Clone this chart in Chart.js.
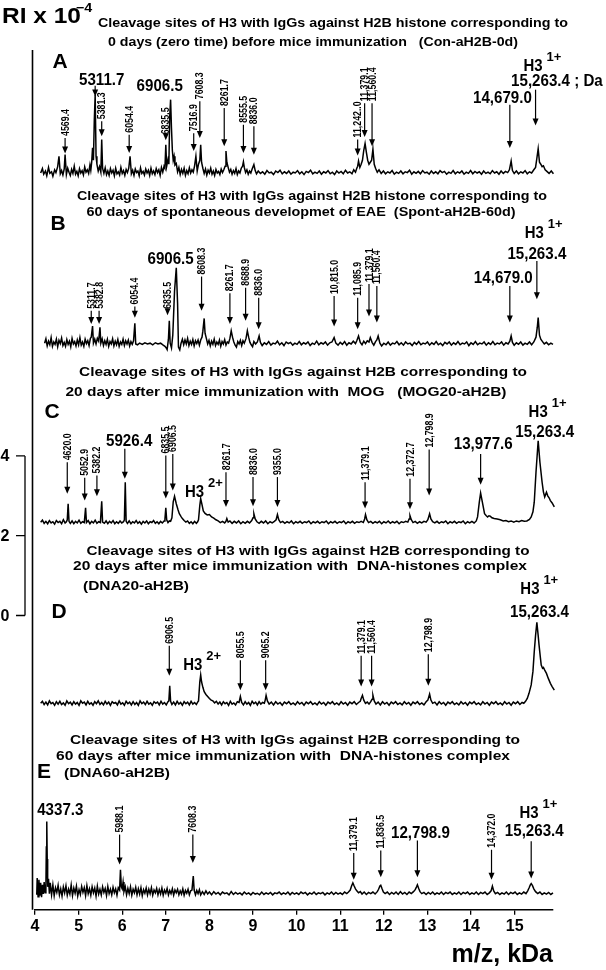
<!DOCTYPE html>
<html>
<head>
<meta charset="utf-8">
<title>Cleavage sites of H3</title>
<script src="https://cdn.jsdelivr.net/npm/chart.js@4.4.0/dist/chart.umd.min.js"></script>
<style>
  body { margin: 0; background: #fff; }
  #wrap { width: 606px; height: 970px; position: relative; }
</style>
</head>
<body>
<div id="wrap"><canvas id="spectra"></canvas></div>
<script>
// Spectra: [m/z (kDa), RI x 10^-4]
const specA = [[4.13,2.28],[4.17,2.39],[4.2,2.25],[4.24,2.33],[4.27,2.21],[4.31,2.42],[4.34,2.27],[4.38,2.31],[4.41,2.2],[4.45,2.36],[4.48,2.29],[4.52,2.44],[4.55,2.70],[4.58,2.26],[4.61,2.34],[4.64,2.23],[4.67,2.38],[4.69,2.74],[4.72,2.24],[4.75,2.4],[4.78,2.3],[4.81,2.22],[4.84,2.37],[4.87,2.27],[4.9,2.45],[4.93,2.25],[4.96,2.32],[4.99,2.21],[5.02,2.39],[5.05,2.28],[5.08,2.34],[5.11,2.23],[5.14,2.43],[5.17,2.3],[5.2,2.36],[5.23,2.27],[5.26,2.48],[5.28,2.35],[5.30,2.55],[5.32,2.91],[5.34,2.6],[5.36,3.6],[5.38,4.24],[5.40,2.7],[5.42,2.5],[5.45,2.33],[5.48,2.44],[5.51,2.3],[5.53,3.12],[5.55,2.4],[5.58,2.27],[5.61,2.41],[5.64,2.24],[5.67,2.33],[5.7,2.22],[5.73,2.39],[5.76,2.28],[5.79,2.35],[5.82,2.21],[5.85,2.4],[5.88,2.26],[5.91,2.31],[5.94,2.23],[5.97,2.42],[6.0,2.27],[6.03,2.34],[6.06,2.22],[6.09,2.37],[6.12,2.29],[6.15,2.4],[6.18,2.70],[6.21,2.26],[6.24,2.35],[6.27,2.22],[6.3,2.38],[6.33,2.29],[6.36,2.33],[6.39,2.21],[6.42,2.41],[6.45,2.27],[6.48,2.32],[6.51,2.23],[6.54,2.38],[6.57,2.28],[6.6,2.35],[6.63,2.22],[6.66,2.4],[6.69,2.26],[6.72,2.33],[6.75,2.24],[6.78,2.39],[6.81,2.29],[6.84,2.36],[6.87,2.22],[6.9,2.42],[6.93,2.3],[6.96,2.45],[6.98,2.4],[7.00,2.99],[7.02,2.45],[7.05,2.62],[7.07,2.5],[7.09,3.7],[7.11,4.12],[7.13,3.4],[7.15,2.85],[7.17,2.6],[7.19,2.7],[7.21,2.48],[7.24,2.52],[7.27,2.31],[7.3,2.42],[7.33,2.24],[7.36,2.37],[7.39,2.27],[7.42,2.4],[7.45,2.22],[7.48,2.34],[7.51,2.26],[7.54,2.41],[7.57,2.28],[7.6,2.36],[7.63,2.3],[7.66,2.46],[7.69,2.70],[7.72,2.33],[7.75,2.5],[7.78,2.6],[7.80,2.99],[7.82,2.55],[7.85,2.4],[7.88,2.27],[7.91,2.38],[7.94,2.23],[7.97,2.35],[8.0,2.28],[8.03,2.4],[8.06,2.25],[8.09,2.33],[8.12,2.22],[8.15,2.37],[8.18,2.28],[8.21,2.32],[8.24,2.24],[8.27,2.38],[8.3,2.29],[8.33,2.36],[8.36,2.45],[8.38,2.83],[8.4,2.55],[8.43,2.42],[8.46,2.3],[8.49,2.37],[8.52,2.25],[8.55,2.34],[8.58,2.27],[8.61,2.39],[8.64,2.24],[8.67,2.33],[8.7,2.28],[8.73,2.4],[8.76,2.45],[8.78,2.56],[8.8,2.42],[8.83,2.29],[8.86,2.36],[8.89,2.25],[8.92,2.33],[8.95,2.28],[8.98,2.38],[9.02,2.49],[9.05,2.34],[9.08,2.26],[9.12,2.33],[9.17,2.27],[9.22,2.31],[9.27,2.25],[9.32,2.34],[9.37,2.28],[9.42,2.3],[9.47,2.24],[9.52,2.33],[9.57,2.29],[9.62,2.35],[9.67,2.26],[9.72,2.31],[9.77,2.27],[9.82,2.33],[9.87,2.25],[9.92,2.3],[9.97,2.28],[10.02,2.34],[10.07,2.26],[10.12,2.31],[10.17,2.24],[10.22,2.32],[10.27,2.29],[10.32,2.35],[10.37,2.26],[10.42,2.3],[10.47,2.27],[10.52,2.33],[10.57,2.25],[10.62,2.31],[10.67,2.28],[10.72,2.34],[10.77,2.26],[10.82,2.3],[10.87,2.24],[10.92,2.33],[10.97,2.28],[11.02,2.32],[11.07,2.26],[11.12,2.35],[11.17,2.28],[11.22,2.31],[11.27,2.26],[11.31,2.36],[11.35,2.3],[11.38,2.4],[11.40,2.45],[11.42,2.58],[11.45,2.42],[11.48,2.5],[11.51,2.6],[11.54,2.85],[11.57,3.02],[11.6,2.8],[11.63,2.6],[11.66,2.5],[11.69,2.55],[11.72,2.6],[11.75,2.88],[11.78,2.5],[11.81,2.4],[11.85,2.3],[11.89,2.36],[11.94,2.27],[11.99,2.33],[12.04,2.26],[12.09,2.31],[12.14,2.28],[12.19,2.34],[12.24,2.25],[12.29,2.3],[12.34,2.27],[12.39,2.33],[12.44,2.26],[12.49,2.31],[12.54,2.29],[12.59,2.35],[12.64,2.25],[12.69,2.31],[12.74,2.27],[12.79,2.32],[12.84,2.26],[12.89,2.34],[12.94,2.28],[12.99,2.3],[13.04,2.25],[13.09,2.33],[13.14,2.27],[13.19,2.31],[13.24,2.26],[13.29,2.34],[13.34,2.29],[13.39,2.32],[13.44,2.25],[13.49,2.3],[13.54,2.27],[13.59,2.34],[13.64,2.26],[13.69,2.31],[13.74,2.28],[13.79,2.33],[13.84,2.25],[13.89,2.3],[13.94,2.27],[13.99,2.34],[14.04,2.26],[14.09,2.32],[14.14,2.28],[14.19,2.31],[14.24,2.25],[14.29,2.33],[14.34,2.27],[14.39,2.3],[14.44,2.26],[14.49,2.34],[14.54,2.28],[14.59,2.31],[14.64,2.25],[14.69,2.33],[14.74,2.27],[14.79,2.32],[14.84,2.29],[14.88,2.36],[14.92,2.58],[14.95,2.34],[14.99,2.27],[15.04,2.33],[15.09,2.26],[15.14,2.31],[15.19,2.28],[15.24,2.34],[15.29,2.26],[15.34,2.31],[15.39,2.28],[15.44,2.36],[15.48,2.42],[15.51,2.65],[15.54,2.89],[15.57,2.55],[15.6,2.5],[15.63,2.44],[15.66,2.46],[15.7,2.36],[15.74,2.32],[15.79,2.27],[15.84,2.33],[15.89,2.26],[15.94,2.31],[15.99,2.27],[16.04,2.32],[16.09,2.26],[16.14,2.3],[16.19,2.27],[16.25,2.29]];

const specB = [[4.22,2.3],[4.25,2.41],[4.28,2.23],[4.31,2.35],[4.34,2.26],[4.37,2.44],[4.4,2.22],[4.43,2.33],[4.46,2.27],[4.49,2.4],[4.52,2.21],[4.55,2.37],[4.58,2.29],[4.61,2.43],[4.64,2.24],[4.67,2.32],[4.7,2.22],[4.73,2.39],[4.76,2.27],[4.79,2.35],[4.82,2.21],[4.85,2.42],[4.88,2.28],[4.91,2.34],[4.94,2.23],[4.97,2.38],[5.0,2.26],[5.03,2.44],[5.06,2.25],[5.09,2.33],[5.12,2.22],[5.15,2.4],[5.18,2.29],[5.21,2.36],[5.24,2.24],[5.27,2.42],[5.29,2.45],[5.32,2.73],[5.34,2.3],[5.37,2.4],[5.4,2.28],[5.43,2.42],[5.46,2.35],[5.49,2.70],[5.51,2.3],[5.54,2.41],[5.57,2.24],[5.6,2.36],[5.63,2.27],[5.66,2.4],[5.69,2.22],[5.72,2.34],[5.75,2.28],[5.78,2.41],[5.81,2.23],[5.84,2.35],[5.87,2.26],[5.9,2.39],[5.93,2.22],[5.96,2.33],[5.99,2.27],[6.02,2.4],[6.05,2.24],[6.08,2.36],[6.11,2.28],[6.14,2.38],[6.17,2.23],[6.2,2.34],[6.23,2.27],[6.26,2.36],[6.29,2.80],[6.31,2.28],[6.35,2.26],[6.4,2.3],[6.46,2.27],[6.52,2.31],[6.58,2.28],[6.64,2.3],[6.7,2.26],[6.76,2.31],[6.82,2.28],[6.88,2.3],[6.94,2.25],[6.98,2.22],[7.01,2.18],[7.03,2.14],[7.06,2.4],[7.08,2.86],[7.1,2.3],[7.13,2.18],[7.16,2.5],[7.2,3.6],[7.24,4.19],[7.27,3.3],[7.29,2.2],[7.32,2.13],[7.35,2.3],[7.38,2.4],[7.41,2.26],[7.44,2.38],[7.47,2.28],[7.5,2.42],[7.53,2.24],[7.56,2.35],[7.59,2.27],[7.62,2.39],[7.65,2.23],[7.68,2.36],[7.71,2.29],[7.74,2.38],[7.77,2.25],[7.8,2.38],[7.83,2.45],[7.85,2.6],[7.88,2.92],[7.9,2.55],[7.93,2.42],[7.96,2.28],[7.99,2.37],[8.02,2.23],[8.05,2.35],[8.08,2.27],[8.11,2.4],[8.14,2.24],[8.17,2.33],[8.2,2.27],[8.23,2.38],[8.26,2.22],[8.29,2.34],[8.32,2.28],[8.35,2.39],[8.38,2.25],[8.41,2.33],[8.44,2.3],[8.47,2.42],[8.5,2.61],[8.53,2.45],[8.56,2.33],[8.59,2.25],[8.62,2.2],[8.65,2.34],[8.68,2.28],[8.71,2.37],[8.74,2.24],[8.77,2.36],[8.8,2.3],[8.84,2.42],[8.87,2.61],[8.9,2.45],[8.93,2.32],[8.96,2.26],[8.99,2.21],[9.02,2.34],[9.06,2.28],[9.1,2.33],[9.14,2.48],[9.17,2.32],[9.21,2.24],[9.26,2.31],[9.31,2.27],[9.36,2.34],[9.41,2.25],[9.46,2.3],[9.51,2.28],[9.56,2.35],[9.61,2.26],[9.66,2.31],[9.71,2.24],[9.76,2.33],[9.81,2.29],[9.86,2.32],[9.91,2.25],[9.96,2.3],[10.01,2.27],[10.06,2.34],[10.11,2.26],[10.16,2.31],[10.21,2.28],[10.26,2.33],[10.31,2.24],[10.36,2.3],[10.41,2.27],[10.46,2.35],[10.51,2.26],[10.56,2.31],[10.61,2.28],[10.66,2.33],[10.71,2.25],[10.76,2.31],[10.81,2.33],[10.86,2.44],[10.9,2.3],[10.95,2.25],[11.0,2.32],[11.05,2.27],[11.1,2.34],[11.15,2.25],[11.2,2.31],[11.25,2.28],[11.3,2.35],[11.35,2.29],[11.38,2.36],[11.42,2.48],[11.46,2.32],[11.5,2.26],[11.54,2.35],[11.58,2.29],[11.62,2.36],[11.66,2.33],[11.69,2.44],[11.73,2.32],[11.77,2.25],[11.81,2.34],[11.84,2.38],[11.87,2.48],[11.91,2.3],[11.95,2.23],[12.0,2.3],[12.05,2.26],[12.1,2.33],[12.15,2.25],[12.2,2.3],[12.25,2.28],[12.3,2.34],[12.35,2.26],[12.4,2.31],[12.45,2.25],[12.5,2.33],[12.55,2.28],[12.6,2.3],[12.65,2.24],[12.7,2.32],[12.75,2.27],[12.8,2.34],[12.85,2.26],[12.9,2.3],[12.95,2.28],[13.0,2.33],[13.05,2.25],[13.1,2.31],[13.15,2.27],[13.2,2.34],[13.25,2.26],[13.3,2.3],[13.35,2.24],[13.4,2.32],[13.45,2.28],[13.5,2.33],[13.55,2.25],[13.6,2.31],[13.65,2.27],[13.7,2.34],[13.75,2.26],[13.8,2.3],[13.85,2.28],[13.9,2.33],[13.95,2.24],[14.0,2.31],[14.05,2.27],[14.1,2.34],[14.15,2.26],[14.2,2.3],[14.25,2.28],[14.3,2.33],[14.35,2.25],[14.4,2.31],[14.45,2.27],[14.5,2.34],[14.55,2.26],[14.6,2.3],[14.65,2.28],[14.7,2.33],[14.75,2.25],[14.8,2.31],[14.85,2.28],[14.89,2.35],[14.92,2.48],[14.95,2.32],[14.99,2.25],[15.04,2.31],[15.09,2.27],[15.14,2.33],[15.19,2.25],[15.24,2.3],[15.29,2.27],[15.34,2.33],[15.39,2.26],[15.44,2.33],[15.49,2.45],[15.52,2.7],[15.54,2.94],[15.57,2.5],[15.6,2.4],[15.64,2.34],[15.68,2.28],[15.73,2.32],[15.78,2.26],[15.83,2.3],[15.88,2.27],[15.93,2.31],[15.98,2.25],[16.03,2.3],[16.08,2.27],[16.13,2.31],[16.18,2.26],[16.23,2.3],[16.29,2.27],[16.36,2.28]];

const specC = [[4.13,2.34],[4.17,2.39],[4.21,2.31],[4.25,2.36],[4.29,2.3],[4.33,2.38],[4.37,2.32],[4.41,2.35],[4.45,2.29],[4.49,2.38],[4.53,2.33],[4.57,2.36],[4.61,2.3],[4.65,2.4],[4.69,2.32],[4.72,2.35],[4.74,2.4],[4.76,2.80],[4.78,2.36],[4.81,2.31],[4.85,2.37],[4.89,2.3],[4.93,2.36],[4.97,2.32],[5.01,2.39],[5.05,2.31],[5.09,2.35],[5.13,2.33],[5.16,2.70],[5.18,2.33],[5.22,2.38],[5.26,2.3],[5.3,2.36],[5.34,2.32],[5.38,2.39],[5.42,2.31],[5.46,2.35],[5.5,2.33],[5.53,2.86],[5.55,2.34],[5.59,2.31],[5.63,2.37],[5.67,2.3],[5.71,2.36],[5.75,2.32],[5.79,2.38],[5.83,2.3],[5.87,2.35],[5.91,2.31],[5.95,2.37],[5.99,2.32],[6.03,2.35],[6.05,2.4],[6.07,3.34],[6.09,2.36],[6.12,2.31],[6.16,2.37],[6.2,2.3],[6.24,2.35],[6.28,2.32],[6.32,2.38],[6.36,2.31],[6.4,2.35],[6.44,2.29],[6.48,2.36],[6.52,2.32],[6.56,2.37],[6.6,2.3],[6.64,2.35],[6.68,2.33],[6.72,2.38],[6.76,2.31],[6.8,2.35],[6.84,2.3],[6.88,2.36],[6.92,2.32],[6.96,2.37],[6.98,2.42],[7.0,2.70],[7.02,2.4],[7.05,2.33],[7.08,2.37],[7.11,2.36],[7.14,2.45],[7.17,2.85],[7.2,2.99],[7.24,2.8],[7.28,2.65],[7.31,2.55],[7.35,2.48],[7.38,2.43],[7.42,2.38],[7.46,2.34],[7.5,2.37],[7.54,2.31],[7.58,2.35],[7.62,2.3],[7.66,2.36],[7.7,2.31],[7.73,2.35],[7.75,2.4],[7.78,2.76],[7.8,2.93],[7.83,2.78],[7.86,2.62],[7.9,2.56],[7.95,2.52],[8.0,2.53],[8.05,2.47],[8.1,2.44],[8.15,2.4],[8.2,2.37],[8.25,2.33],[8.3,2.36],[8.35,2.32],[8.38,2.36],[8.4,2.43],[8.43,2.34],[8.47,2.37],[8.52,2.31],[8.57,2.36],[8.62,2.32],[8.67,2.37],[8.72,2.3],[8.77,2.35],[8.82,2.31],[8.87,2.36],[8.92,2.32],[8.97,2.38],[9.0,2.45],[9.02,2.55],[9.05,2.42],[9.09,2.35],[9.14,2.31],[9.19,2.36],[9.24,2.32],[9.29,2.37],[9.34,2.3],[9.39,2.35],[9.44,2.32],[9.49,2.36],[9.53,2.4],[9.56,2.53],[9.59,2.4],[9.63,2.33],[9.68,2.36],[9.73,2.31],[9.78,2.35],[9.83,2.32],[9.88,2.37],[9.93,2.3],[9.98,2.35],[10.03,2.32],[10.08,2.36],[10.13,2.31],[10.18,2.35],[10.23,2.33],[10.28,2.37],[10.33,2.3],[10.38,2.35],[10.43,2.32],[10.48,2.36],[10.53,2.31],[10.58,2.35],[10.63,2.33],[10.68,2.37],[10.73,2.3],[10.78,2.35],[10.83,2.32],[10.88,2.36],[10.93,2.31],[10.98,2.35],[11.03,2.33],[11.08,2.37],[11.13,2.3],[11.18,2.35],[11.23,2.32],[11.28,2.36],[11.33,2.31],[11.38,2.35],[11.43,2.33],[11.48,2.36],[11.53,2.33],[11.56,2.42],[11.58,2.53],[11.61,2.4],[11.65,2.33],[11.7,2.36],[11.75,2.31],[11.8,2.35],[11.85,2.32],[11.9,2.36],[11.95,2.3],[12.0,2.35],[12.05,2.32],[12.1,2.37],[12.15,2.31],[12.2,2.35],[12.25,2.32],[12.3,2.36],[12.35,2.3],[12.4,2.35],[12.45,2.33],[12.5,2.36],[12.55,2.34],[12.58,2.42],[12.6,2.50],[12.63,2.4],[12.67,2.33],[12.72,2.36],[12.77,2.31],[12.82,2.35],[12.87,2.32],[12.92,2.36],[12.97,2.34],[13.01,2.4],[13.05,2.55],[13.08,2.42],[13.12,2.35],[13.17,2.32],[13.22,2.36],[13.27,2.31],[13.32,2.35],[13.37,2.33],[13.42,2.37],[13.47,2.3],[13.52,2.35],[13.57,2.32],[13.62,2.36],[13.67,2.31],[13.72,2.35],[13.77,2.33],[13.82,2.37],[13.87,2.3],[13.92,2.35],[13.97,2.32],[14.02,2.36],[14.07,2.32],[14.12,2.37],[14.15,2.47],[14.19,2.84],[14.22,3.07],[14.26,2.84],[14.31,2.55],[14.35,2.5],[14.38,2.47],[14.41,2.5],[14.44,2.49],[14.48,2.45],[14.53,2.43],[14.6,2.42],[14.67,2.40],[14.74,2.37],[14.8,2.38],[14.86,2.35],[14.92,2.37],[14.98,2.34],[15.04,2.37],[15.1,2.35],[15.16,2.38],[15.22,2.36],[15.28,2.37],[15.34,2.41],[15.38,2.47],[15.42,2.6],[15.45,2.84],[15.49,3.59],[15.54,4.38],[15.58,3.84],[15.63,3.34],[15.66,3.1],[15.69,2.97],[15.73,3.09],[15.76,3.0],[15.79,2.95],[15.82,2.88],[15.86,2.82],[15.91,2.72],[15.95,2.66],[16.0,2.59],[16.04,2.56],[16.09,2.51],[16.13,2.47],[16.18,2.41],[16.21,2.36],[16.25,2.32]];

const specD = [[4.13,2.3],[4.17,2.35],[4.21,2.27],[4.25,2.33],[4.29,2.26],[4.33,2.36],[4.37,2.29],[4.41,2.32],[4.45,2.25],[4.49,2.34],[4.53,2.28],[4.57,2.35],[4.61,2.27],[4.65,2.31],[4.69,2.25],[4.73,2.36],[4.77,2.29],[4.81,2.33],[4.85,2.26],[4.89,2.34],[4.93,2.28],[4.97,2.32],[5.01,2.25],[5.05,2.36],[5.09,2.3],[5.13,2.33],[5.17,2.26],[5.21,2.35],[5.25,2.28],[5.29,2.31],[5.33,2.25],[5.37,2.34],[5.41,2.29],[5.45,2.36],[5.49,2.27],[5.53,2.32],[5.57,2.26],[5.61,2.35],[5.65,2.28],[5.69,2.33],[5.73,2.25],[5.77,2.34],[5.81,2.3],[5.85,2.32],[5.89,2.26],[5.93,2.36],[5.97,2.28],[6.01,2.31],[6.05,2.25],[6.09,2.35],[6.13,2.29],[6.17,2.33],[6.21,2.26],[6.25,2.34],[6.29,2.27],[6.33,2.32],[6.37,2.25],[6.41,2.36],[6.45,2.29],[6.49,2.33],[6.53,2.27],[6.57,2.35],[6.61,2.28],[6.65,2.31],[6.69,2.25],[6.73,2.34],[6.77,2.3],[6.81,2.33],[6.85,2.26],[6.89,2.35],[6.93,2.28],[6.97,2.32],[7.01,2.26],[7.05,2.34],[7.07,2.36],[7.09,2.74],[7.11,2.35],[7.14,2.27],[7.18,2.33],[7.22,2.26],[7.26,2.35],[7.3,2.28],[7.34,2.32],[7.38,2.25],[7.42,2.34],[7.46,2.29],[7.5,2.33],[7.54,2.26],[7.58,2.35],[7.62,2.28],[7.66,2.32],[7.7,2.27],[7.73,2.33],[7.75,2.36],[7.78,2.84],[7.8,3.01],[7.82,2.84],[7.85,2.7],[7.88,2.59],[7.92,2.52],[7.96,2.47],[8.0,2.42],[8.04,2.38],[8.08,2.36],[8.12,2.31],[8.16,2.35],[8.2,2.28],[8.24,2.33],[8.28,2.26],[8.32,2.34],[8.36,2.29],[8.4,2.32],[8.44,2.25],[8.48,2.35],[8.52,2.28],[8.56,2.31],[8.6,2.26],[8.64,2.34],[8.68,2.32],[8.71,2.47],[8.74,2.32],[8.78,2.26],[8.82,2.34],[8.86,2.28],[8.9,2.32],[8.94,2.25],[8.98,2.35],[9.02,2.29],[9.06,2.33],[9.1,2.26],[9.14,2.34],[9.18,2.28],[9.22,2.32],[9.26,2.3],[9.28,2.38],[9.3,2.50],[9.33,2.36],[9.37,2.28],[9.42,2.33],[9.47,2.26],[9.52,2.34],[9.57,2.28],[9.62,2.32],[9.67,2.25],[9.72,2.33],[9.77,2.29],[9.82,2.34],[9.87,2.27],[9.92,2.31],[9.97,2.26],[10.02,2.34],[10.07,2.28],[10.12,2.32],[10.17,2.25],[10.22,2.33],[10.27,2.29],[10.32,2.34],[10.37,2.27],[10.42,2.31],[10.47,2.26],[10.52,2.34],[10.57,2.28],[10.62,2.32],[10.67,2.25],[10.72,2.33],[10.77,2.29],[10.82,2.34],[10.87,2.27],[10.92,2.31],[10.97,2.26],[11.02,2.34],[11.07,2.28],[11.12,2.32],[11.17,2.25],[11.22,2.33],[11.27,2.29],[11.32,2.34],[11.37,2.27],[11.42,2.32],[11.46,2.35],[11.48,2.42],[11.51,2.50],[11.54,2.38],[11.58,2.3],[11.62,2.33],[11.66,2.28],[11.7,2.34],[11.73,2.4],[11.75,2.50],[11.78,2.36],[11.82,2.28],[11.87,2.33],[11.92,2.26],[11.97,2.34],[12.02,2.28],[12.07,2.32],[12.12,2.25],[12.17,2.33],[12.22,2.29],[12.27,2.34],[12.32,2.27],[12.37,2.31],[12.42,2.26],[12.47,2.34],[12.52,2.28],[12.57,2.32],[12.62,2.25],[12.67,2.33],[12.72,2.29],[12.77,2.34],[12.82,2.27],[12.87,2.31],[12.92,2.26],[12.97,2.34],[13.01,2.38],[13.05,2.53],[13.08,2.38],[13.12,2.3],[13.17,2.33],[13.22,2.26],[13.27,2.34],[13.32,2.28],[13.37,2.32],[13.42,2.25],[13.47,2.33],[13.52,2.29],[13.57,2.34],[13.62,2.27],[13.67,2.31],[13.72,2.26],[13.77,2.34],[13.82,2.28],[13.87,2.32],[13.92,2.25],[13.97,2.33],[14.02,2.29],[14.07,2.34],[14.12,2.27],[14.17,2.31],[14.22,2.26],[14.27,2.34],[14.32,2.28],[14.37,2.32],[14.42,2.25],[14.47,2.33],[14.52,2.29],[14.57,2.34],[14.62,2.27],[14.67,2.31],[14.72,2.26],[14.77,2.34],[14.82,2.28],[14.87,2.32],[14.92,2.25],[14.97,2.33],[15.02,2.29],[15.07,2.34],[15.12,2.27],[15.17,2.32],[15.21,2.3],[15.25,2.35],[15.29,2.42],[15.33,2.55],[15.38,2.76],[15.42,3.1],[15.45,3.59],[15.48,4.0],[15.51,4.33],[15.54,4.0],[15.56,3.76],[15.59,3.45],[15.61,3.26],[15.64,3.18],[15.66,3.2],[15.69,3.13],[15.73,3.05],[15.77,2.93],[15.82,2.80],[15.86,2.72],[15.91,2.63],[15.97,2.55],[16.04,2.47],[16.1,2.42],[16.16,2.38],[16.21,2.33],[16.25,2.30]];

const specE = [[4.04,2.3],[4.05,2.72],[4.07,2.25],[4.09,2.68],[4.11,2.28],[4.13,2.6],[4.15,2.24],[4.17,2.55],[4.19,2.32],[4.21,2.62],[4.23,2.35],[4.25,2.5],[4.26,3.5],[4.27,4.14],[4.28,3.2],[4.29,2.5],[4.31,2.7],[4.33,2.33],[4.35,2.6],[4.38,2.3],[4.41,2.55],[4.44,2.28],[4.47,2.48],[4.5,2.36],[4.53,2.54],[4.56,2.3],[4.59,2.45],[4.62,2.27],[4.65,2.5],[4.68,2.35],[4.71,2.53],[4.74,2.29],[4.77,2.44],[4.8,2.32],[4.83,2.55],[4.86,2.28],[4.89,2.47],[4.92,2.34],[4.95,2.52],[4.98,2.27],[5.01,2.43],[5.04,2.31],[5.07,2.51],[5.1,2.36],[5.13,2.48],[5.16,2.28],[5.19,2.53],[5.22,2.33],[5.25,2.45],[5.28,2.29],[5.31,2.5],[5.34,2.35],[5.37,2.47],[5.4,2.27],[5.43,2.52],[5.46,2.32],[5.49,2.44],[5.52,2.3],[5.55,2.5],[5.58,2.36],[5.61,2.46],[5.64,2.28],[5.67,2.51],[5.7,2.33],[5.73,2.44],[5.76,2.3],[5.79,2.49],[5.82,2.35],[5.85,2.45],[5.88,2.29],[5.91,2.48],[5.94,2.42],[5.96,2.93],[5.98,2.5],[6.0,2.45],[6.02,2.62],[6.04,2.38],[6.07,2.5],[6.1,2.3],[6.13,2.46],[6.16,2.33],[6.19,2.5],[6.22,2.29],[6.25,2.44],[6.28,2.35],[6.31,2.49],[6.34,2.3],[6.37,2.45],[6.4,2.32],[6.43,2.48],[6.46,2.28],[6.49,2.43],[6.52,2.34],[6.55,2.47],[6.58,2.3],[6.61,2.44],[6.64,2.33],[6.67,2.48],[6.7,2.29],[6.73,2.42],[6.76,2.35],[6.79,2.46],[6.82,2.3],[6.85,2.43],[6.88,2.32],[6.91,2.47],[6.94,2.29],[6.97,2.42],[7.0,2.34],[7.03,2.46],[7.06,2.3],[7.09,2.41],[7.12,2.33],[7.15,2.45],[7.18,2.29],[7.21,2.42],[7.24,2.35],[7.27,2.44],[7.3,2.3],[7.33,2.4],[7.36,2.32],[7.39,2.45],[7.42,2.29],[7.45,2.41],[7.48,2.34],[7.51,2.44],[7.54,2.3],[7.57,2.4],[7.6,2.42],[7.63,2.77],[7.65,2.42],[7.68,2.3],[7.71,2.41],[7.74,2.33],[7.77,2.43],[7.8,2.3],[7.84,2.38],[7.88,2.31],[7.92,2.4],[7.96,2.32],[8.0,2.37],[8.05,2.3],[8.1,2.38],[8.15,2.32],[8.2,2.36],[8.25,2.3],[8.3,2.37],[8.35,2.33],[8.4,2.35],[8.45,2.3],[8.5,2.38],[8.55,2.31],[8.6,2.36],[8.65,2.32],[8.7,2.35],[8.75,2.3],[8.8,2.37],[8.85,2.32],[8.9,2.35],[8.95,2.3],[9.0,2.36],[9.05,2.32],[9.1,2.34],[9.15,2.3],[9.2,2.37],[9.25,2.31],[9.3,2.35],[9.35,2.32],[9.4,2.36],[9.45,2.3],[9.5,2.35],[9.55,2.33],[9.6,2.37],[9.65,2.31],[9.7,2.35],[9.75,2.32],[9.8,2.37],[9.85,2.3],[9.9,2.36],[9.95,2.32],[10.0,2.35],[10.05,2.31],[10.1,2.37],[10.15,2.33],[10.2,2.36],[10.25,2.3],[10.3,2.35],[10.35,2.32],[10.4,2.37],[10.45,2.31],[10.5,2.35],[10.55,2.33],[10.6,2.36],[10.65,2.3],[10.7,2.35],[10.75,2.32],[10.8,2.37],[10.85,2.31],[10.9,2.36],[10.95,2.32],[11.0,2.35],[11.05,2.31],[11.1,2.37],[11.15,2.33],[11.19,2.37],[11.23,2.42],[11.26,2.52],[11.29,2.60],[11.32,2.52],[11.35,2.45],[11.38,2.4],[11.42,2.35],[11.46,2.38],[11.5,2.32],[11.55,2.37],[11.6,2.31],[11.65,2.36],[11.7,2.33],[11.75,2.37],[11.8,2.32],[11.85,2.38],[11.88,2.44],[11.91,2.52],[11.93,2.54],[11.96,2.45],[11.99,2.37],[12.03,2.33],[12.08,2.37],[12.13,2.31],[12.18,2.36],[12.23,2.32],[12.28,2.37],[12.33,2.31],[12.38,2.38],[12.43,2.32],[12.48,2.36],[12.53,2.31],[12.58,2.37],[12.63,2.33],[12.68,2.38],[12.72,2.43],[12.75,2.5],[12.77,2.55],[12.8,2.46],[12.83,2.38],[12.87,2.33],[12.92,2.36],[12.97,2.31],[13.02,2.36],[13.07,2.32],[13.12,2.37],[13.17,2.31],[13.22,2.35],[13.27,2.32],[13.32,2.37],[13.37,2.31],[13.42,2.36],[13.47,2.33],[13.52,2.37],[13.57,2.31],[13.62,2.35],[13.67,2.32],[13.72,2.37],[13.77,2.31],[13.82,2.36],[13.87,2.33],[13.92,2.37],[13.97,2.31],[14.02,2.35],[14.07,2.32],[14.12,2.37],[14.17,2.31],[14.22,2.36],[14.27,2.33],[14.32,2.37],[14.37,2.31],[14.42,2.35],[14.46,2.4],[14.49,2.52],[14.52,2.4],[14.56,2.33],[14.61,2.36],[14.66,2.31],[14.71,2.35],[14.76,2.32],[14.81,2.37],[14.86,2.31],[14.91,2.36],[14.96,2.33],[15.01,2.37],[15.06,2.31],[15.11,2.35],[15.16,2.32],[15.21,2.37],[15.26,2.33],[15.3,2.4],[15.33,2.47],[15.36,2.55],[15.38,2.58],[15.41,2.53],[15.44,2.45],[15.48,2.38],[15.53,2.33],[15.58,2.37],[15.63,2.31],[15.68,2.35],[15.73,2.32],[15.78,2.36],[15.83,2.31],[15.88,2.35],[15.93,2.32],[15.98,2.36],[16.03,2.31],[16.11,2.33]];

// Small rotated peak labels: [text, m/z, arrow tail, arrow tip]
const peaksA = [["4569.4",4.69,3.16,2.77],["5381.3",5.53,3.58,3.20],["6054.4",6.16,3.24,2.78],["6835.5",7.00,3.20,3.10],["7516.9",7.64,3.28,2.83],["7608.3",7.78,4.08,3.16],["8261.7",8.34,3.91,2.95],["8555.5",8.78,3.49,2.78],["8836.0",9.02,3.45,2.74],["11,242..0",11.40,3.12,2.72],["11,379.1",11.56,4.03,3.18],["11,560.4",11.73,4.03,2.95]];
const peaksB = [["5311.7",5.29,3.11,2.78],["5382.8",5.47,3.11,2.78],["6054.4",6.29,3.22,2.94],["6835.5",7.04,3.11,3.00],["8608.3",7.82,3.97,3.11],["8261.7",8.47,3.55,2.78],["8688.9",8.83,3.69,2.86],["8836.0",9.13,3.44,2.65],["10,815.0",10.86,3.48,2.72],["11,085.9",11.40,3.44,2.65],["11,379.1",11.66,3.78,2.97],["11,560.4",11.84,3.73,2.82]];
const peaksC = [["4620.0",4.74,3.84,3.05],["5052.9",5.14,3.45,2.88],["5382.2",5.42,3.51,2.99],["6835.5",7.00,4.01,2.93],["6906.5",7.16,4.05,3.13],["8261.7",8.38,3.59,2.72],["8836.0",9.00,3.47,2.74],["9355.0",9.56,3.47,2.72],["11,379.1",11.57,3.34,2.68],["12,372.7",12.60,3.43,2.66],["12,798.9",13.04,4.16,3.01]];
const peaksD = [["6906.5",7.08,3.74,2.99],["8055.5",8.71,3.38,2.63],["9065.2",9.29,3.38,2.63],["11,379.1",11.48,3.49,2.72],["11,560.4",11.72,3.49,2.72],["12,798.9",13.02,3.53,2.74]];
const peaksE = [["5988.1",5.94,3.81,3.06],["7608.3",7.62,3.81,3.10],["11,379.1",11.31,3.35,2.68],["11,836.5",11.93,3.41,2.74],["14,372.0",14.47,3.43,2.68]];

// Large labels: [text, label m/z, label baseline, arrow m/z or null, tail, tip]
const majorA = [["5311.7",5.53,4.49,5.38,4.47,4.20],["6906.5",6.86,4.33,null],["14,679.0",14.72,4.03,14.89,3.99,2.91],["15,263.4 ; Da",15.97,4.47,15.48,4.37,3.47]];
const majorB = [["6906.5",7.11,4.28,null],["14,679.0",14.74,3.82,14.89,3.73,2.82],["15,263.4",15.51,4.40,15.51,4.36,3.40]];
const majorC = [["5926.4",6.16,4.26,6.06,4.18,3.43],["13,977.6",14.28,4.18,14.22,4.05,3.28],["15,263.4",15.69,4.47,null]];
const majorD = [["15,263.4",15.57,4.47,null]];
const majorE = [["4337.3",4.58,4.31,null],["12,798.9",12.84,3.73,12.77,3.66,2.74],["15,263.4",15.45,3.77,15.38,3.64,2.71]];

// H3 ion marks: [charge, m/z, baseline]
const ionsA = [["1+",15.42,4.83]];
const ionsB = [["1+",15.45,4.94]];
const ionsC = [["1+",15.54,4.97],["2+",7.66,2.97]];
const ionsD = [["1+",15.35,5.05],["2+",7.62,3.13]];
const ionsE = [["1+",15.33,4.23]];

const xTicksMin = 4;
const xTicksMax = 15;
const barTicks = [0, 2, 4];

const FONT = '"Liberation Sans", Arial, sans-serif';

// layout of each panel: titles are [text, centre x, offset from band top, width]
const panels = [
  { id: 'yA', min: 1.99, max: 6.62, weight: 185, spec: specA, peaks: peaksA, major: majorA, ions: ionsA,
    letter: ['A', 60, 62],
    titles: [["Cleavage sites of H3 with IgGs against H2B histone corresponding to", 333, 23, 470],
             ["0 days (zero time) before mice immunization   (Con-aH2B-0d)", 313, 42, 410]] },
  { id: 'yB', min: 1.775, max: 6.275, weight: 180, spec: specB, peaks: peaksB, major: majorB, ions: ionsB,
    letter: ['B', 58, 40],
    titles: [["Cleavage sites of H3 with IgGs against H2B histone corresponding to", 312, 12, 470],
             ["60 days of spontaneous developmet of EAE  (Spont-aH2B-60d)", 301, 28, 429]] },
  { id: 'yC', min: 1.925, max: 6.3, weight: 175, spec: specC, peaks: peaksC, major: majorC, ions: ionsC,
    letter: ['C', 52, 48],
    titles: [["Cleavage sites of H3 with IgGs against H2B corresponding to", 303, 8, 448],
             ["20 days after mice immunization with  MOG   (MOG20-aH2B)", 286, 28, 441]] },
  { id: 'yD', min: 1.725, max: 6.425, weight: 188, spec: specD, peaks: peaksD, major: majorD, ions: ionsD,
    letter: ['D', 59, 74],
    titles: [["Cleavage sites of H3 with IgGs against H2B corresponding to", 308, 13, 443],
             ["20 days after mice immunization with  DNA-histones complex", 300, 28, 454],
             ["(DNA20-aH2B)", 136, 48, 106]] },
  { id: 'yE', min: 1.925, max: 6.525, weight: 184, spec: specE, peaks: peaksE, major: majorE, ions: ionsE,
    letter: ['E', 44, 46],
    titles: [["Cleavage sites of H3 with IgGs against H2B corresponding to", 295, 14, 450],
             ["60 days after mice immunization with  DNA-histones complex", 283, 30, 454],
             ["(DNA60-aH2B)", 117, 47, 106]] }
];

function write(ctx, s, x, y, size, bold, align, sx, base) {
  ctx.save();
  ctx.font = (bold ? 'bold ' : '') + size + 'px ' + FONT;
  ctx.textAlign = align;
  ctx.textBaseline = base;
  ctx.translate(x, y);
  ctx.scale(sx, 1);
  ctx.fillText(s, 0, 0);
  ctx.restore();
}

// stretch or squeeze a text to a given width
function fit(ctx, s, x, y, size, width, align, base) {
  ctx.save();
  ctx.font = 'bold ' + size + 'px ' + FONT;
  const w = ctx.measureText(s).width;
  ctx.textAlign = align;
  ctx.textBaseline = base;
  ctx.translate(x, y);
  ctx.scale(width / w, 1);
  ctx.fillText(s, 0, 0);
  ctx.restore();
}

function arrow(ctx, px, y0, y1) {
  ctx.lineWidth = 1.2;
  ctx.beginPath();
  ctx.moveTo(px, y0);
  ctx.lineTo(px, y1 - 5);
  ctx.stroke();
  ctx.beginPath();
  ctx.moveTo(px, y1);
  ctx.lineTo(px - 3, y1 - 7);
  ctx.lineTo(px + 3, y1 - 7);
  ctx.closePath();
  ctx.fill();
}

const sketch = {
  id: 'sketch',
  afterDatasetsDraw(chart) {
    const ctx = chart.ctx;
    const xs = chart.scales.x;
    const area = chart.chartArea;
    ctx.save();
    ctx.fillStyle = '#000';
    ctx.strokeStyle = '#000';

    // long frame line on the left
    ctx.lineWidth = 1.6;
    ctx.beginPath();
    ctx.moveTo(area.left - 2.5, area.top + 50);
    ctx.lineTo(area.left - 2.5, area.bottom);
    ctx.stroke();

    fit(ctx, 'RI x 10', 2, 23, 22, 79, 'left', 'alphabetic');
    write(ctx, '\u22124', 76, 12, 13, true, 'left', 1.1, 'alphabetic');

    // intensity scale bar, in panel C units
    const yc = chart.scales.yC;
    ctx.lineWidth = 1.3;
    ctx.beginPath();
    ctx.moveTo(25, yc.getPixelForValue(barTicks[barTicks.length - 1]));
    ctx.lineTo(25, yc.getPixelForValue(barTicks[0]));
    barTicks.forEach(v => {
      const py = yc.getPixelForValue(v);
      ctx.moveTo(16, py);
      ctx.lineTo(25, py);
    });
    ctx.stroke();
    barTicks.forEach(v => write(ctx, String(v), 5, yc.getPixelForValue(v) + 1, 16, true, 'center', 1, 'middle'));

    panels.forEach(p => {
      const ys = chart.scales[p.id];
      const top = ys.top;
      p.titles.forEach(([s, cx, dy, w]) => fit(ctx, s, cx, top + dy, 13, w, 'center', 'middle'));
      write(ctx, p.letter[0], p.letter[1], top + p.letter[2], 21, true, 'center', 1, 'middle');

      p.peaks.forEach(([s, mz, tail, tip]) => {
        const px = xs.getPixelForValue(mz);
        const y0 = ys.getPixelForValue(tail);
        arrow(ctx, px, y0, ys.getPixelForValue(tip));
        ctx.save();
        ctx.translate(px + 0.5, y0 - 2);
        ctx.rotate(-Math.PI / 2);
        ctx.scale(0.8, 1);
        ctx.font = 'bold 11px ' + FONT;
        ctx.textAlign = 'left';
        ctx.textBaseline = 'middle';
        ctx.fillText(s, 0, 0);
        ctx.restore();
      });

      p.major.forEach(([s, lmz, base, amz, tail, tip]) => {
        write(ctx, s, xs.getPixelForValue(lmz), ys.getPixelForValue(base), 17, true, 'center', 0.89, 'alphabetic');
        if (amz !== null) arrow(ctx, xs.getPixelForValue(amz), ys.getPixelForValue(tail), ys.getPixelForValue(tip));
      });

      p.ions.forEach(([charge, mz, base]) => {
        const px = xs.getPixelForValue(mz);
        const py = ys.getPixelForValue(base);
        write(ctx, 'H3', px, py, 17, true, 'center', 0.88, 'alphabetic');
        write(ctx, charge, px + 13.5, py - 10, 13, true, 'left', 1, 'alphabetic');
      });
    });
    ctx.restore();
  }
};

const scales = {
  x: {
    type: 'linear',
    min: xTicksMin,
    max: 15.88,
    ticks: {
      stepSize: 1,
      includeBounds: false,
      autoSkip: false,
      maxRotation: 0,
      padding: 2,
      color: '#000',
      font: { family: FONT, size: 16, weight: 'bold' },
      callback: v => (v >= xTicksMin && v <= xTicksMax ? String(v) : '')
    },
    grid: { display: true, drawOnChartArea: false, drawTicks: true, tickLength: 5, color: '#000', lineWidth: 1.3 },
    border: { display: true, color: '#000', width: 1.6 },
    title: {
      display: true, text: 'm/z, kDa', align: 'end', color: '#000',
      font: { family: FONT, size: 25, weight: 'bold' },
      padding: { top: 2, bottom: 0 }
    }
  }
};
// the layout stacks left boxes from the bottom up, so add the lowest panel first
panels.slice().reverse().forEach(p => {
  scales[p.id] = {
    type: 'linear', position: 'left', stack: 'panels', stackWeight: p.weight,
    min: p.min, max: p.max, display: false
  };
});

new Chart(document.getElementById('spectra'), {
  type: 'line',
  data: {
    datasets: panels.map(p => ({
      data: p.spec,
      yAxisID: p.id,
      xAxisID: 'x',
      borderColor: '#000',
      borderWidth: 1.5,
      pointRadius: 0,
      tension: 0,
      fill: false,
      clip: false
    }))
  },
  options: {
    responsive: true,
    maintainAspectRatio: false,
    animation: false,
    layout: { padding: { left: 35, right: 53, top: 0, bottom: 0 } },
    plugins: { legend: { display: false }, tooltip: { enabled: false } },
    scales
  },
  plugins: [sketch]
});
</script>
</body>
</html>
